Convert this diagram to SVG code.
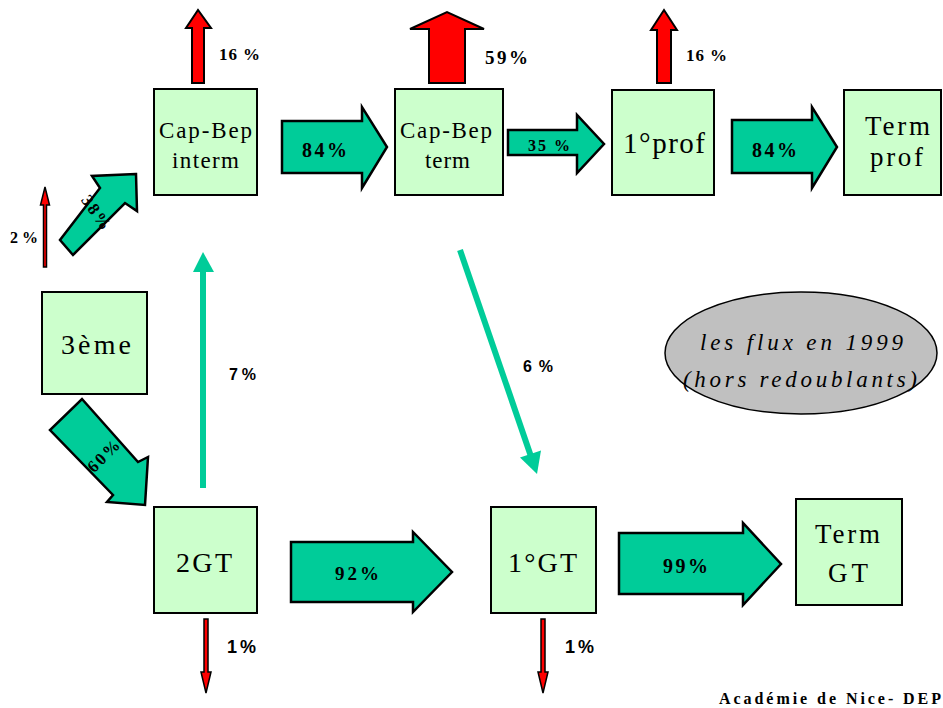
<svg xmlns="http://www.w3.org/2000/svg" width="943" height="708" viewBox="0 0 943 708">
<style>
.box{fill:#ccffcc;stroke:#000;stroke-width:2}
.big{fill:#00cc99;stroke:#000;stroke-width:2.5;stroke-linejoin:miter}
.red{fill:#ff0000;stroke:#000;stroke-width:2}
.thin{fill:#ff0000;stroke:#000;stroke-width:1.5}
.gl{stroke:#00cc99;stroke-width:6;fill:none}
.gh{fill:#00cc99;stroke:none}
.bt{font-family:"Liberation Serif","Times New Roman",serif;fill:#000}
.lb{font-family:"Liberation Serif","Times New Roman",serif;font-weight:bold;fill:#000}
.ls{font-family:"Liberation Sans",Arial,sans-serif;font-weight:bold;fill:#000}
.it{font-family:"Liberation Serif","Times New Roman",serif;font-style:italic;font-size:23px;fill:#000}
</style>
<rect width="943" height="708" fill="#fff"/>

<g id="connectors">
  <!-- red exit arrows -->
  <polygon class="red" points="192,83 192,28 186,28 198,10 211,28 204,28 204,83"/>
  <polygon class="red" points="429,83 429,29 410,29 447,12 484,29 465,29 465,83"/>
  <polygon class="red" points="657,83 657,30 651,30 664,10 677,30 671,30 671,83"/>
  <polygon class="thin" points="43.5,267 43.5,205 40.5,205 45,187 49.5,205 46.5,205 46.5,267"/>
  <polygon class="thin" points="204,619 204,672 201,672 206,693 211,672 208,672 208,619"/>
  <polygon class="thin" points="541,619 541,672 538,672 543,693 548,672 545,672 545,619"/>
  <!-- block arrows -->
  <polygon class="big" points="282,121 362,121 362,107 387,147 362,188 362,173 282,173"/>
  <polygon class="big" points="508,130 577,130 577,115 604,144 577,173 577,155 508,155"/>
  <polygon class="big" points="732,120 812,120 812,107 837,147 812,188 812,173 732,173"/>
  <polygon class="big" points="291,542 413,542 413,532 452,572 413,612 413,602 291,602"/>
  <polygon class="big" points="619,533 743,533 743,523 781,564 743,605 743,594 619,594"/>
  <polygon class="big" points="136,174 92,176 100,188 60,240 73,255 125,203 137,211"/>
  <polygon class="big" points="82,399 138,462 148,457 145,505 107,502 113,495 50,430"/>
  <!-- thin green arrows -->
  <line class="gl" x1="203" y1="488" x2="203" y2="268"/>
  <polygon class="gh" points="193,272 203,252 214,272"/>
  <line class="gl" x1="460" y1="250" x2="530.5" y2="455"/>
  <polygon class="gh" points="541,450.5 537,474 520,457.5"/>
</g>

<g id="labels">
  <text class="lb" x="219" y="60" font-size="17" textLength="41" lengthAdjust="spacing">16 %</text>
  <text class="lb" x="485" y="64" font-size="19" textLength="43" lengthAdjust="spacing">59%</text>
  <text class="lb" x="686" y="61" font-size="17" textLength="41" lengthAdjust="spacing">16 %</text>
  <text class="lb" x="302" y="157" font-size="20" textLength="45" lengthAdjust="spacing">84%</text>
  <text class="lb" x="528" y="151" font-size="16" textLength="42" lengthAdjust="spacing">35 %</text>
  <text class="lb" x="752" y="157" font-size="20" textLength="45" lengthAdjust="spacing">84%</text>
  <text class="lb" x="335" y="580" font-size="19" textLength="44" lengthAdjust="spacing">92%</text>
  <text class="lb" x="663" y="573" font-size="20" textLength="45" lengthAdjust="spacing">99%</text>
  <text class="lb" x="10" y="243" font-size="16" textLength="28" lengthAdjust="spacing">2%</text>
  <text class="ls" x="229" y="380" font-size="16" textLength="27" lengthAdjust="spacing">7%</text>
  <text class="ls" x="523" y="372" font-size="16" textLength="30" lengthAdjust="spacing">6%</text>
  <text class="ls" x="227" y="653" font-size="18" textLength="29" lengthAdjust="spacing">1%</text>
  <text class="ls" x="565" y="653" font-size="18" textLength="29" lengthAdjust="spacing">1%</text>
  <text class="lb" font-size="17" text-anchor="middle" transform="translate(97,213) rotate(55)" dy="6" letter-spacing="2">38%</text>
  <text class="lb" font-size="17" text-anchor="middle" transform="translate(104,455) rotate(-45)" dy="6" letter-spacing="2">60%</text>
  <text class="lb" x="719" y="704" font-size="16" textLength="222" lengthAdjust="spacing">Académie de Nice- DEP</text>
</g>

<g id="capbep-interm">
  <rect class="box" x="154" y="89" width="103" height="106"/>
  <text class="bt" x="159" y="138" font-size="23" textLength="93" lengthAdjust="spacing">Cap-Bep</text>
  <text class="bt" x="172" y="168" font-size="23" textLength="67" lengthAdjust="spacing">interm</text>
</g>
<g id="capbep-term">
  <rect class="box" x="395" y="89" width="108" height="106"/>
  <text class="bt" x="400" y="138" font-size="23" textLength="92" lengthAdjust="spacing">Cap-Bep</text>
  <text class="bt" x="425" y="168" font-size="23" textLength="45" lengthAdjust="spacing">term</text>
</g>
<g id="prof1">
  <rect class="box" x="612" y="90" width="102" height="105"/>
  <text class="bt" x="623" y="153" font-size="29" textLength="82" lengthAdjust="spacing">1°prof</text>
</g>
<g id="term-prof">
  <rect class="box" x="844" y="90" width="97" height="105"/>
  <text class="bt" x="865" y="135" font-size="27" textLength="65" lengthAdjust="spacing">Term</text>
  <text class="bt" x="870" y="166" font-size="27" textLength="53" lengthAdjust="spacing">prof</text>
</g>
<g id="troisieme">
  <rect class="box" x="42" y="292" width="105" height="102"/>
  <text class="bt" x="61" y="354" font-size="28" textLength="70" lengthAdjust="spacing">3ème</text>
</g>
<g id="gt2">
  <rect class="box" x="154" y="507" width="103" height="106"/>
  <text class="bt" x="176" y="572" font-size="28" textLength="56" lengthAdjust="spacing">2GT</text>
</g>
<g id="gt1">
  <rect class="box" x="491" y="507" width="105" height="106"/>
  <text class="bt" x="508" y="572" font-size="28" textLength="69" lengthAdjust="spacing">1°GT</text>
</g>
<g id="term-gt">
  <rect class="box" x="796" y="499" width="106" height="106"/>
  <text class="bt" x="815" y="543" font-size="27" textLength="65" lengthAdjust="spacing">Term</text>
  <text class="bt" x="828" y="582" font-size="27" textLength="40" lengthAdjust="spacing">GT</text>
</g>
<g id="legend">
  <ellipse cx="801" cy="353" rx="136" ry="61" fill="#c0c0c0" stroke="#000" stroke-width="1.5"/>
  <text class="it" x="700" y="350" textLength="203" lengthAdjust="spacing">les flux en 1999</text>
  <text class="it" x="683" y="387" textLength="234" lengthAdjust="spacing">(hors redoublants)</text>
</g>
</svg>
